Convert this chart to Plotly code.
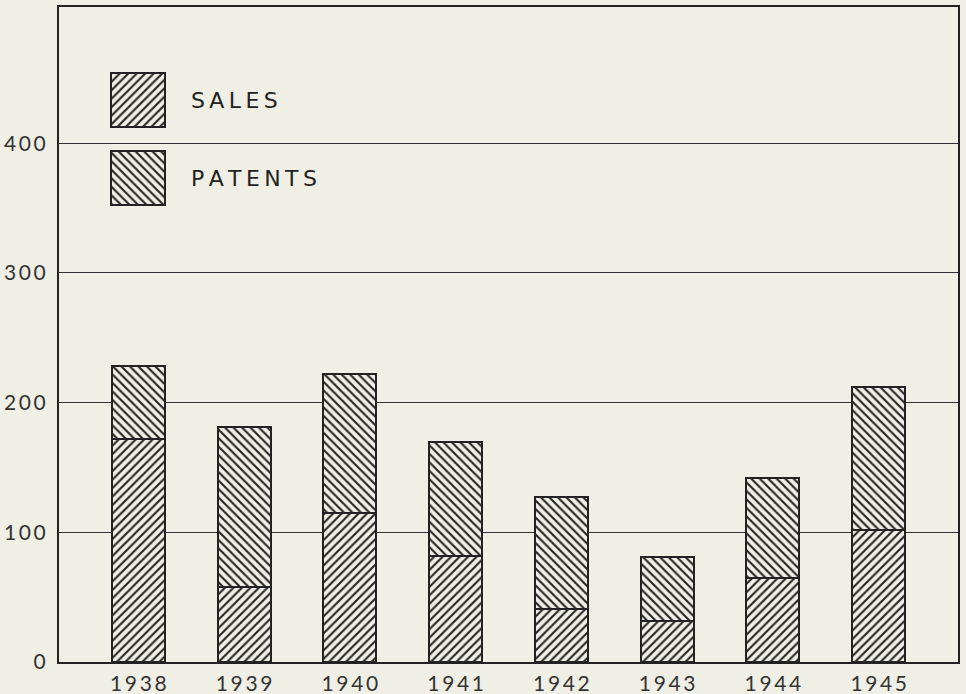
import plotly.graph_objects as go

years = ["1938", "1939", "1940", "1941", "1942", "1943", "1944", "1945"]
sales = [172, 58, 115, 82, 41, 32, 65, 102]
patents = [56, 123, 107, 88, 86, 49, 77, 110]
y_ticks = [0, 100, 200, 300, 400]
series_names = ["SALES", "PATENTS"]

BG = "#efefe5"
INK = "#222222"
SP = "\u2009"

def spaced(s):
    return SP.join(list(s))

xs = list(range(len(years)))

def pat(shape):
    return dict(shape=shape, fgcolor=INK, bgcolor=BG, size=6, solidity=0.34, fillmode="replace")

fig = go.Figure()
fig.add_trace(go.Bar(x=xs, y=sales, width=0.5, name="SALES",
                     marker=dict(color=BG, pattern=pat("/"), line=dict(color=INK, width=2)),
                     showlegend=False))
fig.add_trace(go.Bar(x=xs, y=patents, width=0.5, name="PATENTS",
                     marker=dict(color=BG, pattern=pat("\\"), line=dict(color=INK, width=2)),
                     showlegend=False))

# legend swatches on an overlay pixel-space axis
fig.add_trace(go.Bar(x=[79, 79], y=[54, 54], base=[66, 144], width=54,
                     xaxis="x2", yaxis="y2", showlegend=False, hoverinfo="skip",
                     marker=dict(color=BG, line=dict(color=INK, width=2),
                                 pattern=dict(shape=["/", "\\"], fgcolor=INK, bgcolor=BG,
                                              size=6, solidity=0.34, fillmode="replace"))))

for name, yy in zip(series_names, [93, 171]):
    fig.add_annotation(x=130, y=yy, xref="x2", yref="y2", text=spaced(name),
                       showarrow=False, xanchor="left", yanchor="middle",
                       font=dict(family="DejaVu Sans", size=22, color=INK))

fig.update_layout(
    width=966, height=694,
    margin=dict(l=59, r=8, t=7, b=32, autoexpand=False),
    paper_bgcolor=BG, plot_bgcolor=BG,
    barmode="stack", bargap=0,
    xaxis=dict(range=[-0.75, 7.75], tickvals=xs, ticktext=[spaced(y) for y in years],
               showgrid=False, zeroline=False, showline=True, mirror=True,
               linecolor=INK, linewidth=2, ticks="", ticklabelstandoff=2, automargin=False,
               tickfont=dict(family="Lato", size=21, color="#333333")),
    yaxis=dict(range=[0, 505], tickvals=y_ticks, ticktext=[spaced(str(v)) for v in y_ticks],
               showgrid=True, gridcolor="#333333", gridwidth=1.4, zeroline=False,
               showline=True, mirror=True, linecolor=INK, linewidth=2, ticks="",
               ticklabelstandoff=7, automargin=False,
               tickfont=dict(family="Lato", size=21, color="#333333")),
    xaxis2=dict(range=[0, 899], overlaying="x", visible=False, fixedrange=True),
    yaxis2=dict(range=[655, 0], overlaying="y", visible=False, fixedrange=True),
)

fig.write_html("out.html", config={"displayModeBar": False},
               post_script="document.body.style.margin='0';document.body.style.background='" + BG + "';")
